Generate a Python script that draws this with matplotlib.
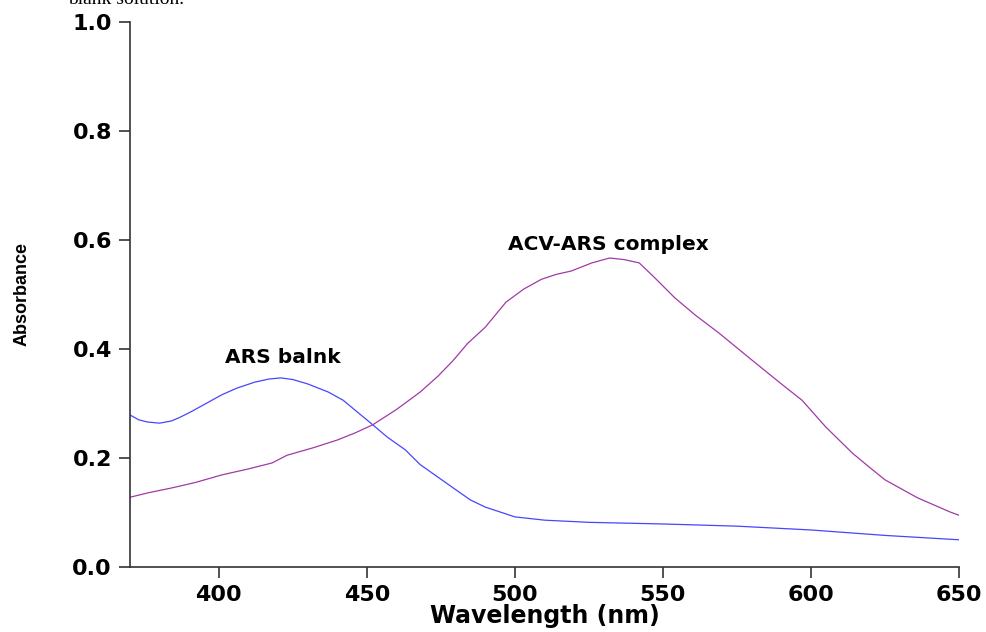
import matplotlib
matplotlib.use("Agg")
from matplotlib import pyplot as plt

# ARS blank spectrum
blank_wl = [370, 373, 376, 380, 384, 387, 391, 394, 398, 401, 406, 412, 417, 421, 425, 430,
            437, 442, 446, 452, 457, 463, 468, 474, 480, 485, 490, 495, 500, 510, 525, 550,
            575, 600, 625, 650]
blank_abs = [0.279, 0.270, 0.266, 0.264, 0.268, 0.275, 0.286, 0.295, 0.307, 0.316, 0.328, 0.339,
             0.345, 0.347, 0.344, 0.336, 0.321, 0.306, 0.288, 0.261, 0.238, 0.215, 0.188, 0.165,
             0.142, 0.123, 0.110, 0.101, 0.092, 0.086, 0.082, 0.079, 0.075, 0.068, 0.058, 0.050]

# ACV-ARS complex spectrum
complex_wl = [370, 376, 384, 392, 401, 410, 418, 423, 432, 440, 446, 452, 460, 468, 474, 479,
              484, 490, 497, 503, 509, 514, 519, 526, 532, 537, 542, 547, 554, 561, 569, 580,
              590, 597, 605, 614, 620, 625, 636, 647, 650]
complex_abs = [0.128, 0.136, 0.145, 0.155, 0.169, 0.180, 0.191, 0.205, 0.219, 0.233, 0.246, 0.261,
               0.289, 0.321, 0.350, 0.378, 0.410, 0.440, 0.486, 0.510, 0.528, 0.537, 0.543, 0.558,
               0.567, 0.564, 0.558, 0.532, 0.494, 0.462, 0.429, 0.380, 0.336, 0.306, 0.257, 0.209,
               0.182, 0.160, 0.127, 0.101, 0.095]

x_ticks = [400, 450, 500, 550, 600, 650]
y_ticks = [0.0, 0.2, 0.4, 0.6, 0.8, 1.0]

fig = plt.figure(figsize=(9.87, 6.32), dpi=100)
ax = fig.add_axes([0.1317, 0.1028, 0.8399, 0.8624])

ax.plot(blank_wl, blank_abs, color="#4646ff", lw=0.9)
ax.plot(complex_wl, complex_abs, color="#a03aa6", lw=0.9)

ax.set_xlim(370, 650)
ax.set_ylim(0, 1.0)
ax.set_xticks(x_ticks)
ax.set_yticks(y_ticks)
ax.set_yticklabels([f"{v:.1f}" for v in y_ticks])

for s in ["top", "right"]:
    ax.spines[s].set_visible(False)
for s in ["left", "bottom"]:
    ax.spines[s].set_color("#333333")
    ax.spines[s].set_linewidth(1.2)
ax.tick_params(direction="out", length=8, width=1.2, color="#333333", pad=5)
for lab in ax.get_xticklabels() + ax.get_yticklabels():
    lab.set_fontfamily("DejaVu Sans")
    lab.set_fontweight("bold")
    lab.set_fontsize(16)

ax.set_xlabel("Wavelength (nm)", fontfamily="DejaVu Sans", fontweight="bold",
              fontsize=17, labelpad=-1)
fig.text(0.022, 0.535, "Absorbance", rotation=90, ha="center", va="center",
         family=["Liberation Sans Narrow", "Liberation Sans"], fontweight="bold", fontsize=13)

ax.text(421.5, 0.385, "ARS balnk", ha="center", va="center",
        fontfamily="DejaVu Sans", fontweight="bold", fontsize=14.5)
ax.text(531.5, 0.592, "ACV-ARS complex", ha="center", va="center",
        fontfamily="DejaVu Sans", fontweight="bold", fontsize=14.5)

# cut-off caption line from the page above
fig.text(0.069, 1 - 4 / 632, "blank solution.", ha="left", va="baseline",
         fontfamily="Liberation Serif", fontsize=14)

fig.savefig("out.png", dpi=100)
